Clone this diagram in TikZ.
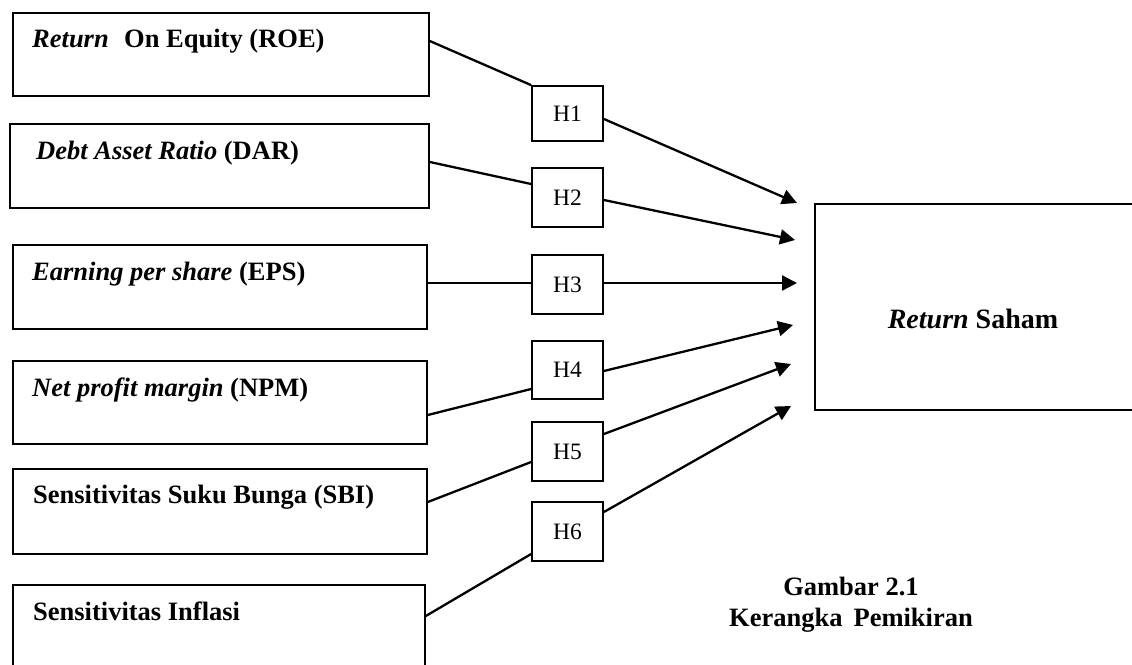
\documentclass[tikz,border=0pt]{standalone}
\usepackage{fontspec}
\setmainfont{Liberation Serif}
\usetikzlibrary{arrows.meta,calc}
\begin{document}
\begin{tikzpicture}[x=1pt,y=-1pt,
  box/.style={draw,line width=1.8pt,inner sep=0pt,anchor=north west},
  hbox/.style={draw,line width=1.8pt,inner sep=0pt,minimum width=71pt,minimum height=57pt,font=\fontsize{23.5}{26}\selectfont},
  lbl/.style={anchor=base west,inner sep=0pt,font=\fontsize{26.5}{30}\selectfont\bfseries},
  conn/.style={line width=2.3pt},
  arr/.style={line width=2.3pt,-{Triangle[length=15pt,width=15pt]}}]
\useasboundingbox (0,0) rectangle (1132,664);
\clip (0,0) rectangle (1132,664);

% left boxes
\node[box,minimum width=416pt,minimum height=83pt] (roe) at (12,12) {};
\node[box,minimum width=419pt,minimum height=84pt] (dar) at (9,123) {};
\node[box,minimum width=414pt,minimum height=84pt] (eps) at (12,244) {};
\node[box,minimum width=414pt,minimum height=83pt] (npm) at (12,360) {};
\node[box,minimum width=414pt,minimum height=85pt] (sbi) at (12,468) {};
\node[box,minimum width=412pt,minimum height=120pt] (inf) at (12,584) {};

\node[lbl] (troe) at (32,47) {\textit{Return}\,\, On Equity (ROE)};
\node[lbl] (tdar) at (36,159) {\textit{Debt Asset Ratio} (DAR)};
\node[lbl] (teps) at (32,280) {\textit{Earning per share} (EPS)};
\node[lbl] (tnpm) at (32,396) {\textit{Net profit margin} (NPM)};
\node[lbl] (tsbi) at (33,503) {Sensitivitas Suku Bunga (SBI)};
\node[lbl] (tinf) at (33,620) {Sensitivitas Inflasi};

% H boxes
\node[hbox,minimum height=55pt] (h1) at (567.5,113.5) {H1};
\node[hbox,minimum height=59pt] (h2) at (567.5,197.5) {H2};
\node[hbox,minimum height=59pt] (h3) at (567.5,284.5) {H3};
\node[hbox,minimum height=58pt] (h4) at (567.5,370) {H4};
\node[hbox,minimum height=59pt] (h5) at (567.5,451.5) {H5};
\node[hbox,minimum height=59pt] (h6) at (567.5,531.5) {H6};

% target
\node[box,minimum width=330pt,minimum height=206pt] (rs) at (814,203) {};
\node[anchor=base,inner sep=0pt,font=\fontsize{28}{32}\selectfont\bfseries] (trs) at (973,328) {\textit{Return} Saham};

% arrow tips
\coordinate (t1) at (797,203);
\coordinate (t2) at (795,240);
\coordinate (t3) at (797,283);
\coordinate (t4) at (793,325);
\coordinate (t5) at (791,364);
\coordinate (t6) at (791,406);

% connectors
\draw[conn] (roe.east |- 0,41) -- (h1.north west);
\draw[conn] (dar.east |- 0,162) -- (h2.west |- 0,184);
\draw[conn] (eps.east |- 0,283) -- (h3.west |- 0,283);
\draw[conn] (npm.east |- 0,415) -- (h4.west |- 0,389);
\draw[conn] (sbi.east |- 0,502) -- (h5.west |- 0,462);
\draw[conn] (inf.east |- 0,616) -- (h6.west |- 0,554);

\draw[arr] (h1.east |- 0,119) -- (t1);
\draw[arr] (h2.east |- 0,200) -- (t2);
\draw[arr] (h3.east |- 0,283) -- (t3);
\draw[arr] (h4.east |- 0,371) -- (t4);
\draw[arr] (h5.east |- 0,434) -- (t5);
\draw[arr] (h6.east |- 0,512) -- (t6);

% caption
\node[anchor=base,inner sep=0pt,font=\fontsize{26.5}{31}\selectfont\bfseries] (cap1) at (851,595) {Gambar 2.1};
\node[anchor=base,inner sep=0pt,font=\fontsize{26.5}{31}\selectfont\bfseries] (cap2) at (851,626) {Kerangka\, Pemikiran};
\end{tikzpicture}
\end{document}
